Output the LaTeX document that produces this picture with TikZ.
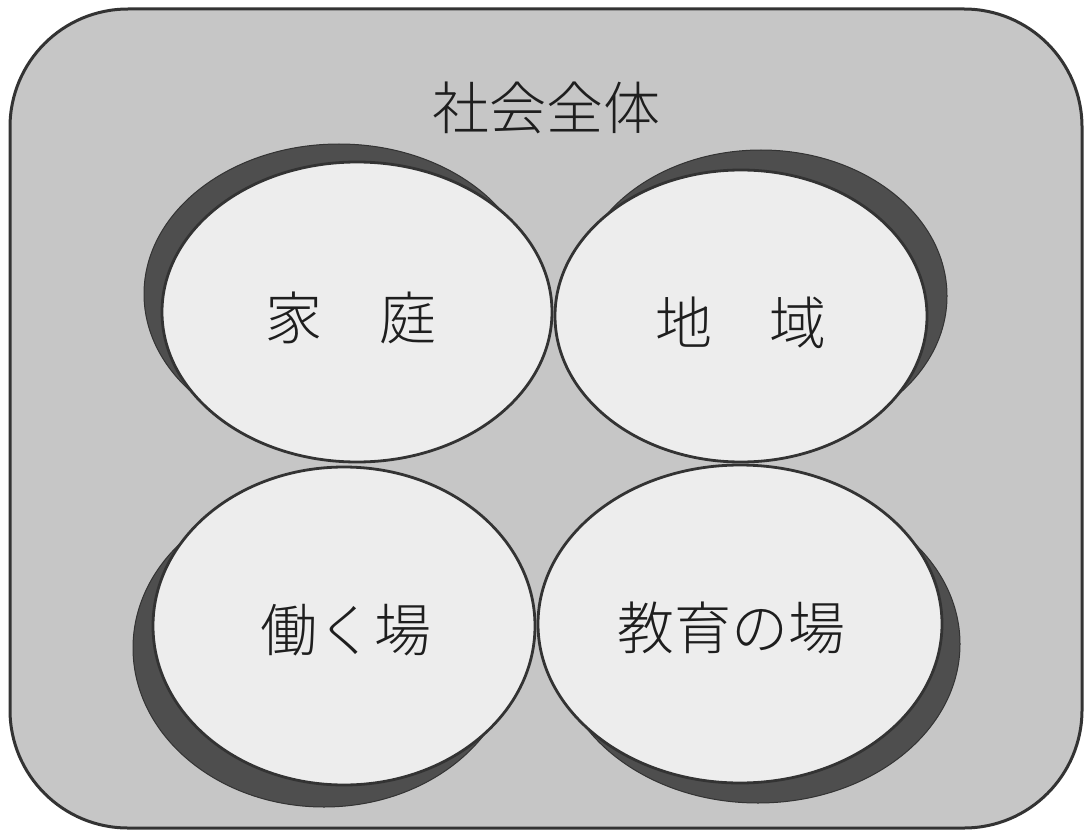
\documentclass[tikz,border=0pt]{standalone}
\usepackage{fontspec}
\newfontfamily\jp{Noto Sans CJK JP Light}
\usetikzlibrary{shapes.geometric}
\definecolor{bggray}{HTML}{C6C6C6}
\definecolor{lightfill}{HTML}{EDEDED}
\definecolor{shade}{HTML}{4E4E4E}
\definecolor{edge}{HTML}{333333}
\definecolor{ink}{HTML}{1E1E1E}
\tikzset{
  frame/.style={draw=edge, line width=3pt, fill=bggray, rounded corners=118pt},
  shadowell/.style={ellipse, fill=shade, draw=edge, line width=1pt, inner sep=0pt},
  mainell/.style={ellipse, fill=lightfill, draw=edge, line width=2.8pt, inner sep=0pt},
  lbl/.style={font=\jp\fontsize{57}{62}\selectfont, text=ink, inner sep=0pt, anchor=center}
}
\begin{document}
\begin{tikzpicture}[x=1pt,y=-1pt]
\useasboundingbox (0,0) rectangle (1086,837);
\draw[frame] (10,9) rectangle (1082,828);
\node[lbl] (title) at (546,108) {社会全体};
% shadows
\node[shadowell, minimum width=390pt, minimum height=300pt] (s1) at (339,294) {};
\node[shadowell, minimum width=372pt, minimum height=292pt] (s2) at (761,296) {};
\node[shadowell, minimum width=382pt, minimum height=318pt] (s3) at (324,648) {};
\node[shadowell, minimum width=404pt, minimum height=318pt] (s4) at (758,644) {};
% main ellipses
\node[mainell, minimum width=390pt, minimum height=300pt] (e1) at (357,312) {};
\node[mainell, minimum width=372pt, minimum height=292pt] (e2) at (741,316) {};
\node[mainell, minimum width=382pt, minimum height=318pt] (e3) at (344,626) {};
\node[mainell, minimum width=404pt, minimum height=318pt] (e4) at (740,624) {};
% labels
\node[lbl] (t1) at (351,318) {家　庭};
\node[lbl] (t2) at (741,323) {地　域};
\node[lbl] (t3) at (346,630) {働く場};
\node[lbl] (t4) at (731,628) {教育の場};
\end{tikzpicture}
\end{document}
